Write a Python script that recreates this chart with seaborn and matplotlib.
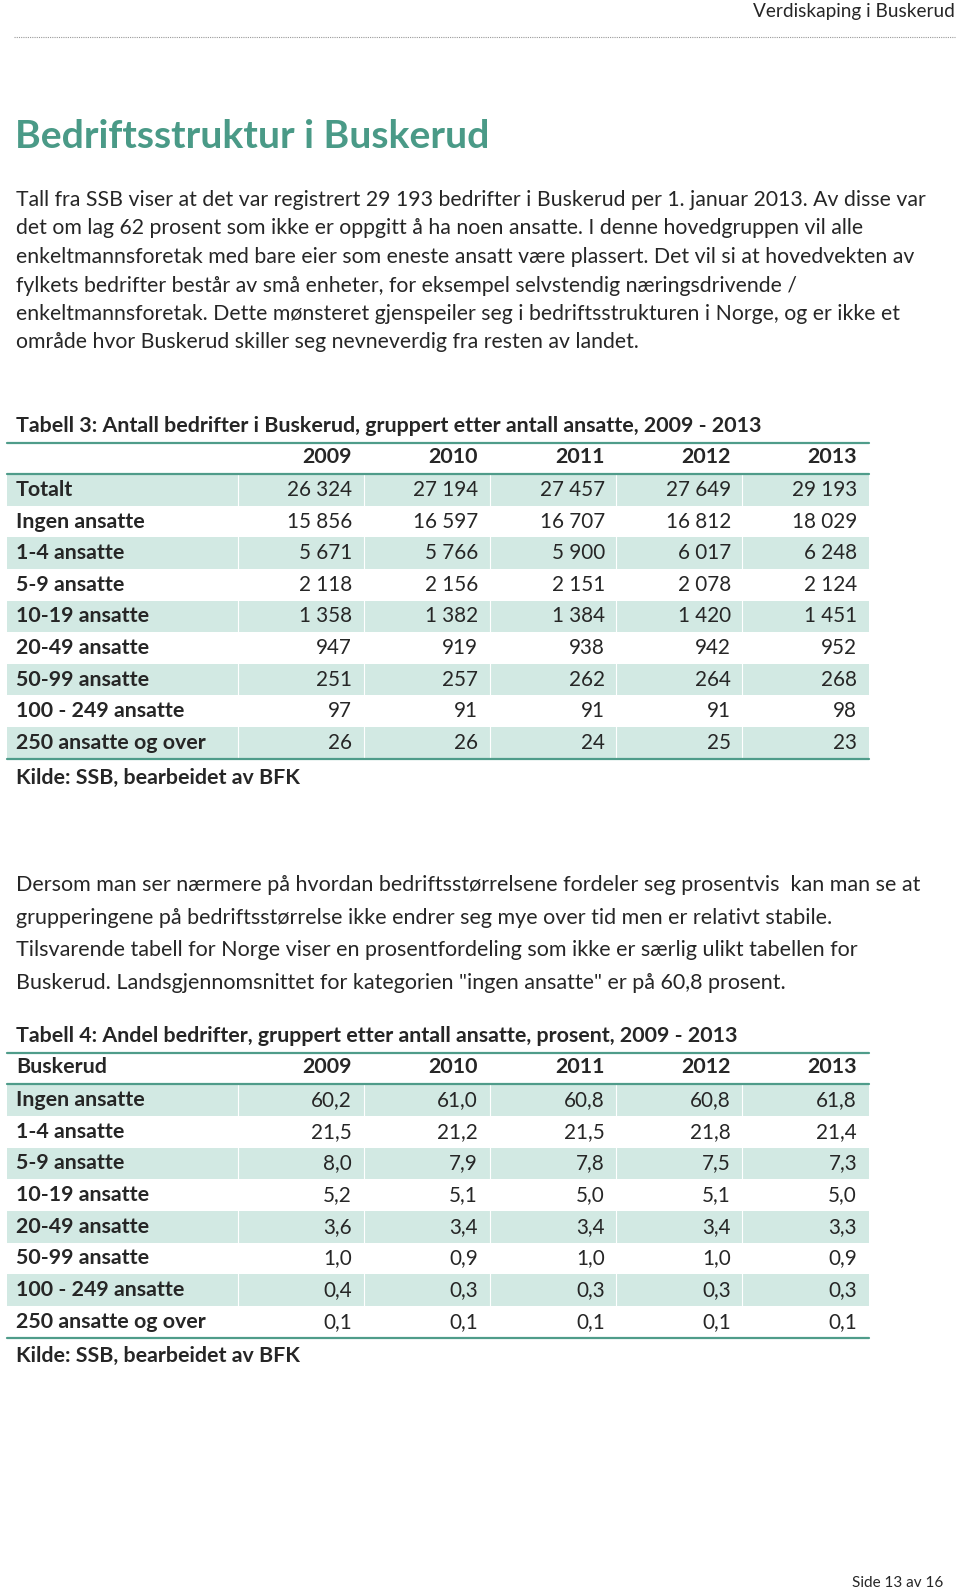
import numpy as np
import pandas as pd
import matplotlib
matplotlib.use("Agg")
import matplotlib.pyplot as plt
from matplotlib.colors import ListedColormap
import seaborn as sns

sns.set_theme(style="white")
plt.rcParams['font.family'] = ['Lato', 'DejaVu Sans']

# Data
years = [2009, 2010, 2011, 2012, 2013]

groups_tab3 = ["Totalt", "Ingen ansatte", "1-4 ansatte", "5-9 ansatte", "10-19 ansatte",
               "20-49 ansatte", "50-99 ansatte", "100 - 249 ansatte", "250 ansatte og over"]
count_2009 = [26324, 15856, 5671, 2118, 1358, 947, 251, 97, 26]
count_2010 = [27194, 16597, 5766, 2156, 1382, 919, 257, 91, 26]
count_2011 = [27457, 16707, 5900, 2151, 1384, 938, 262, 91, 24]
count_2012 = [27649, 16812, 6017, 2078, 1420, 942, 264, 91, 25]
count_2013 = [29193, 18029, 6248, 2124, 1451, 952, 268, 98, 23]

groups_tab4 = groups_tab3[1:]
share_2009 = [60.2, 21.5, 8.0, 5.2, 3.6, 1.0, 0.4, 0.1]
share_2010 = [61.0, 21.2, 7.9, 5.1, 3.4, 0.9, 0.3, 0.1]
share_2011 = [60.8, 21.5, 7.8, 5.0, 3.4, 1.0, 0.3, 0.1]
share_2012 = [60.8, 21.8, 7.5, 5.1, 3.4, 1.0, 0.3, 0.1]
share_2013 = [61.8, 21.4, 7.3, 5.0, 3.3, 0.9, 0.3, 0.1]

para1 = [
    "Tall fra SSB viser at det var registrert 29 193 bedrifter i Buskerud per 1. januar 2013. Av disse var",
    "det om lag 62 prosent som ikke er oppgitt å ha noen ansatte. I denne hovedgruppen vil alle",
    "enkeltmannsforetak med bare eier som eneste ansatt være plassert. Det vil si at hovedvekten av",
    "fylkets bedrifter består av små enheter, for eksempel selvstendig næringsdrivende /",
    "enkeltmannsforetak. Dette mønsteret gjenspeiler seg i bedriftsstrukturen i Norge, og er ikke et",
    "område hvor Buskerud skiller seg nevneverdig fra resten av landet.",
]
para2 = [
    "Dersom man ser nærmere på hvordan bedriftsstørrelsene fordeler seg prosentvis  kan man se at",
    "grupperingene på bedriftsstørrelse ikke endrer seg mye over tid men er relativt stabile.",
    "Tilsvarende tabell for Norge viser en prosentfordeling som ikke er særlig ulikt tabellen for",
    "Buskerud. Landsgjennomsnittet for kategorien \"ingen ansatte\" er på 60,8 prosent.",
]

tab3 = pd.DataFrame({"gruppe": groups_tab3, 2009: count_2009, 2010: count_2010,
                     2011: count_2011, 2012: count_2012, 2013: count_2013})
tab4 = pd.DataFrame({"gruppe": groups_tab4, 2009: share_2009, 2010: share_2010,
                     2011: share_2011, 2012: share_2012, 2013: share_2013})

teal = "#4f9c8a"
stripe = "#d2e9e3"
title_col = "#4a9a87"
W, H = 960, 1591

fig = plt.figure(figsize=(W / 100, H / 100), dpi=100)
ax = fig.add_axes([0, 0, 1, 1])
ax.set_xlim(0, W)
ax.set_ylim(H, 0)
ax.axis("off")
ax.patch.set_alpha(0)
ax.set_zorder(2)

TL, TR = 7, 869
col_right = [352, 478, 605, 731, 857]
col_edges = [238, 364, 490, 616, 742]
fs_bold = 15.4
fs_val = 14.9


def draw_table(df, title, corner, title_y, head_y, row0, pitch, fmt, kilde_y):
    n = len(df)
    # striped rows via seaborn heatmap in its own axes
    top = row0 - pitch / 2
    bot = top + n * pitch
    hax = fig.add_axes([TL / W, 1 - bot / H, (TR - TL) / W, n * pitch / H])
    shade = (np.arange(n) % 2 == 0).astype(int).reshape(-1, 1)
    sns.heatmap(shade, cmap=ListedColormap(["white", stripe]), cbar=False,
                ax=hax, vmin=0, vmax=1)
    hax.set_xticks([])
    hax.set_yticks([])
    for e in col_edges:
        ax.plot([e, e], [top, bot], color="white", lw=0.8, zorder=3)

    ax.text(16, title_y, title, fontsize=fs_bold, fontweight="bold", va="center", ha="left")
    line_a = (title_y + head_y) / 2 + 1
    line_b = (head_y + row0) / 2
    for yy in (line_a, line_b, bot):
        ax.plot([TL, TR], [yy, yy], color=teal, lw=1.6, zorder=4)
    if corner:
        ax.text(16, head_y, corner, fontsize=fs_bold, fontweight="bold", va="center")
    for yr, xr in zip(years, col_right):
        ax.text(xr, head_y, str(yr), fontsize=fs_bold, fontweight="bold", va="center", ha="right")
    for i, row in df.iterrows():
        yy = row0 + i * pitch
        ax.text(16, yy, row["gruppe"], fontsize=fs_bold, fontweight="bold", va="center")
        for yr, xr in zip(years, col_right):
            ax.text(xr, yy, fmt(row[yr]), fontsize=fs_val, va="center", ha="right")
    ax.text(16, kilde_y, "Kilde: SSB, bearbeidet av BFK", fontsize=fs_bold,
            fontweight="bold", va="center")


# header
ax.text(955, 12, "Verdiskaping i Buskerud", fontsize=13.7, ha="right", va="center")
ax.plot([14, 955], [36.5, 36.5], color="#999999", lw=0.8, ls=(0, (1, 1)))

ax.text(15, 137, "Bedriftsstruktur i Buskerud", fontsize=28.2, fontweight="bold",
        color=title_col, va="center")

for i, line in enumerate(para1):
    ax.text(16, 200 + i * 28.5, line, fontsize=15.3, va="center")

draw_table(tab3, "Tabell 3: Antall bedrifter i Buskerud, gruppert etter antall ansatte, 2009 - 2013",
           None, 426, 457, 490, 31.6, lambda v: f"{int(v):,}".replace(",", " "), 778)

for i, line in enumerate(para2):
    ax.text(16, 885 + i * 32.6, line, fontsize=15.5, va="center")

draw_table(tab4, "Tabell 4: Andel bedrifter, gruppert etter antall ansatte, prosent, 2009 - 2013",
           "Buskerud", 1036, 1067, 1100, 31.7, lambda v: f"{v:.1f}".replace(".", ","), 1356)

ax.text(943, 1583, "Side 13 av 16", fontsize=11, ha="right", va="center")

fig.savefig("out.png", dpi=100)
